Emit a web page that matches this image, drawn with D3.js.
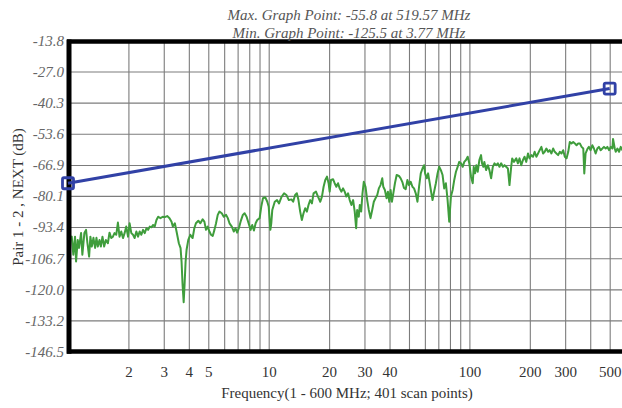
<!DOCTYPE html>
<html><head><meta charset="utf-8">
<script src="https://cdn.jsdelivr.net/npm/d3@7"></script>
<style>body{margin:0;background:#fff;} svg{display:block;}</style>
</head><body>
<svg id="chart" width="622" height="408"></svg>
<script>
const titleLines = ["Max. Graph Point: -55.8 at 519.57 MHz", "Min. Graph Point: -125.5 at 3.77 MHz"];
const yTitle = "Pair 1 - 2 , NEXT (dB)";
const xTitle = "Frequency(1 - 600 MHz; 401 scan points)";
const yTicks = [-13.8, -27.0, -40.3, -53.6, -66.9, -80.1, -93.4, -106.7, -120.0, -133.2, -146.5];
const xLabelTicks = [2, 3, 4, 5, 10, 20, 30, 40, 100, 200, 300, 500];
const xGridTicks = [2, 3, 4, 5, 6, 7, 8, 9, 10, 20, 30, 40, 50, 60, 70, 80, 90, 100, 200, 300, 400, 500, 600];
const limitFreq = [1, 500];
const limitDb = [-74.7, -34.3];
const nextTrace = [
[1.01,-109.5],[1.023,-98.9],[1.044,-97.5],[1.063,-105.2],[1.084,-97.5],[1.097,-108.1],[1.118,-98.9],[1.135,-102.3],[1.162,-95.9],[1.179,-105.2],
[1.207,-95.9],[1.23,-94.6],[1.249,-100.1],[1.274,-106.0],[1.293,-97.5],[1.314,-101.7],[1.339,-98.0],[1.365,-102.3],[1.386,-98.0],[1.408,-101.7],
[1.435,-98.9],[1.458,-101.7],[1.485,-97.5],[1.514,-101.7],[1.544,-98.9],[1.58,-100.3],[1.61,-95.8],[1.642,-98.1],[1.674,-97.5],[1.705,-96.0],
[1.739,-96.7],[1.773,-91.5],[1.806,-97.5],[1.842,-95.3],[1.879,-98.1],[1.914,-96.0],[1.951,-93.2],[1.991,-97.5],[2.028,-91.8],[2.068,-96.0],
[2.109,-96.7],[2.148,-98.1],[2.191,-95.3],[2.234,-97.5],[2.275,-95.3],[2.32,-96.7],[2.366,-94.6],[2.411,-96.0],[2.459,-93.9],[2.507,-94.6],
[2.554,-93.2],[2.604,-93.5],[2.656,-92.5],[2.705,-93.2],[2.759,-90.4],[2.814,-89.0],[2.889,-89.6],[2.967,-89.0],[3.036,-89.2],[3.121,-88.7],
[3.205,-89.6],[3.28,-91.1],[3.329,-93.2],[3.407,-91.8],[3.474,-95.3],[3.567,-100.3],[3.638,-102.4],[3.68,-108.2],[3.723,-118.0],[3.77,-125.5],
[3.809,-118.0],[3.854,-108.2],[3.898,-103.1],[3.975,-98.9],[4.068,-96.7],[4.177,-98.1],[4.26,-93.9],[4.339,-91.8],[4.461,-90.7],[4.565,-91.8],
[4.688,-90.1],[4.781,-91.1],[4.87,-94.6],[4.966,-93.2],[5.064,-95.3],[5.159,-96.7],[5.261,-97.2],[5.365,-94.6],[5.465,-91.8],[5.573,-88.2],
[5.684,-86.8],[5.836,-87.5],[5.973,-89.0],[6.134,-88.2],[6.255,-89.6],[6.379,-91.8],[6.55,-93.2],[6.703,-95.3],[6.835,-93.9],[6.963,-95.8],
[7.1,-93.9],[7.241,-91.1],[7.435,-88.2],[7.582,-87.5],[7.759,-89.0],[7.94,-91.8],[8.126,-94.6],[8.277,-92.5],[8.441,-94.9],[8.608,-91.8],
[8.768,-90.4],[9.014,-89.6],[9.182,-84.7],[9.365,-81.1],[9.616,-80.7],[9.84,-82.6],[10.0,-84.7],[10.19,-94.6],[10.3,-91.8],[10.42,-86.1],
[10.72,-82.6],[11.0,-81.9],[11.26,-83.3],[11.56,-80.7],[11.93,-79.0],[12.25,-79.7],[12.6,-81.9],[12.98,-81.6],[13.24,-82.6],[13.54,-79.7],
[13.81,-79.0],[14.07,-81.9],[14.35,-86.8],[14.63,-90.4],[14.91,-87.5],[15.2,-85.4],[15.5,-86.8],[15.79,-84.0],[16.1,-81.9],[16.42,-83.3],
[16.73,-79.0],[17.2,-78.3],[17.6,-80.4],[18.07,-82.6],[18.42,-80.4],[18.77,-76.2],[19.14,-73.3],[19.52,-71.9],[19.88,-74.7],[20.12,-78.3],
[20.44,-73.3],[20.92,-73.0],[21.31,-74.7],[21.73,-76.2],[22.16,-74.7],[22.57,-76.9],[23.01,-78.3],[23.47,-76.9],[23.91,-78.3],[24.38,-80.4],
[24.86,-79.0],[25.33,-81.9],[25.83,-84.0],[26.34,-81.9],[26.83,-86.8],[27.27,-93.9],[27.59,-86.1],[28.1,-89.0],[28.43,-84.0],[28.89,-86.8],
[29.33,-79.0],[29.77,-74.1],[30.36,-76.2],[30.96,-81.9],[31.53,-86.1],[32.16,-89.6],[32.79,-86.1],[33.4,-82.6],[34.06,-81.1],[34.74,-79.7],
[35.38,-76.9],[36.08,-75.5],[36.8,-72.6],[37.23,-76.2],[37.92,-77.6],[38.67,-81.1],[39.26,-78.3],[39.9,-82.6],[40.5,-77.6],[41.11,-82.6],
[41.78,-79.0],[42.56,-74.7],[43.41,-71.2],[44.57,-71.6],[45.45,-72.6],[46.35,-74.2],[47.21,-76.7],[48.15,-77.2],[49.1,-73.3],[50.02,-75.5],
[51.01,-74.1],[52.02,-76.2],[52.99,-76.9],[54.04,-79.0],[55.11,-82.6],[56.13,-76.2],[57.24,-70.5],[58.38,-68.4],[59.46,-67.0],[60.15,-70.5],
[61.34,-72.6],[62.27,-70.5],[63.29,-74.1],[64.24,-77.6],[65.51,-81.9],[66.73,-78.3],[68.06,-74.7],[69.4,-70.5],[70.69,-67.7],[72.09,-69.1],
[73.51,-71.2],[74.88,-76.9],[76.36,-74.7],[77.87,-81.9],[79.33,-91.1],[80.9,-80.4],[82.5,-77.6],[84.04,-73.3],[85.7,-69.8],[87.39,-67.7],
[89.02,-65.6],[90.78,-66.2],[92.57,-67.7],[94.3,-65.6],[96.16,-64.8],[98.06,-63.4],[99.89,-66.2],[101.9,-71.9],[103.9,-74.7],[105.1,-67.7],
[106.7,-70.5],[108.3,-67.0],[110.0,-69.8],[112.1,-64.8],[114.3,-62.7],[115.6,-66.2],[117.4,-67.7],[118.7,-65.6],[121.1,-69.1],[123.5,-67.0],
[125.8,-69.1],[128.3,-72.6],[130.8,-67.7],[133.3,-66.2],[135.9,-67.0],[138.6,-66.2],[141.2,-67.7],[144.0,-66.2],[146.9,-67.7],[149.6,-67.0],
[152.5,-67.7],[155.5,-68.4],[158.4,-75.5],[161.5,-67.7],[163.4,-64.1],[166.7,-65.6],[171.2,-64.1],[174.5,-66.2],[177.8,-64.1],[181.3,-67.0],
[184.9,-64.8],[188.3,-63.4],[192.0,-65.6],[195.9,-62.0],[199.5,-64.1],[203.5,-62.7],[207.5,-63.4],[211.4,-61.3],[215.6,-63.4],[219.8,-62.0],
[223.9,-60.6],[228.4,-59.2],[232.9,-62.0],[237.2,-61.3],[241.9,-59.9],[246.7,-61.3],[251.3,-60.6],[256.3,-62.0],[261.3,-59.9],[266.2,-61.3],
[271.5,-62.0],[276.8,-62.7],[282.0,-61.3],[287.6,-62.0],[293.3,-60.6],[298.8,-63.4],[304.7,-64.1],[310.8,-61.3],[316.4,-57.1],[322.7,-57.7],
[329.1,-57.1],[335.2,-57.7],[341.9,-58.5],[348.6,-57.7],[355.1,-57.7],[362.2,-59.2],[369.3,-59.9],[373.6,-70.5],[379.2,-62.0],[388.1,-59.9],
[393.9,-59.2],[401.7,-60.6],[409.6,-58.5],[417.3,-59.9],[425.6,-62.0],[434.0,-59.9],[442.1,-59.2],[450.8,-60.6],[459.7,-59.9],[468.3,-59.2],
[477.5,-59.9],[487.1,-59.2],[496.1,-60.6],[505.9,-59.2],[515.9,-59.9],[519.57,-55.8],[530.0,-59.9],[535.9,-61.3],[546.5,-59.9],[556.7,-61.3],
[567.7,-59.2],[579.0,-60.6],[590.0,-59.9],[600.0,-60.6]
];

const svg = d3.select("#chart");
const plot = {left: 68, top: 40.5, bottom: 351.5, decade: 200.7};
const x = d3.scaleLog().domain([1, 600]).range([plot.left, plot.left + plot.decade * Math.log10(600)]);
const y = d3.scaleLinear().domain([-146.5, -13.8]).range([plot.bottom, plot.top]);
const serif = "'Liberation Serif','Times New Roman',serif";

// grid
const gridColor = "#7c7c7c";
const gx = svg.append("g").attr("transform", `translate(0,${plot.bottom})`)
  .call(d3.axisBottom(x).tickValues(xGridTicks).tickSize(-(plot.bottom - plot.top)).tickFormat(""));
gx.select(".domain").remove();
gx.selectAll("line").attr("stroke", gridColor).attr("stroke-width", 1.1);
const gy = svg.append("g").attr("transform", `translate(${plot.left},0)`)
  .call(d3.axisLeft(y).tickValues(yTicks).tickSize(-(x.range()[1] - plot.left)).tickFormat(""));
gy.select(".domain").remove();
gy.selectAll("line").attr("stroke", gridColor).attr("stroke-width", 1.1);

// measured trace
const line = d3.line().x(d => x(d[0])).y(d => y(d[1]));
svg.append("path").datum(nextTrace)
  .attr("fill", "none").attr("stroke", "#3f9d3c").attr("stroke-width", 2)
  .attr("stroke-linejoin", "round").attr("d", line);

// borders
const bw = 4.5;
svg.append("line").attr("x1", plot.left - 1).attr("x2", 640).attr("y1", plot.top + 1).attr("y2", plot.top + 1)
  .attr("stroke", "#000").attr("stroke-width", bw);
svg.append("line").attr("x1", plot.left - 1).attr("x2", 640).attr("y1", plot.bottom).attr("y2", plot.bottom)
  .attr("stroke", "#000").attr("stroke-width", bw);
svg.append("line").attr("x1", plot.left + 1).attr("x2", plot.left + 1).attr("y1", plot.top - 1).attr("y2", plot.bottom + 2.2)
  .attr("stroke", "#000").attr("stroke-width", 5);

// limit line
const limit = limitFreq.map((f, i) => [f, limitDb[i]]);
svg.append("path").datum(limit)
  .attr("fill", "none").attr("stroke", "#3141a6").attr("stroke-width", 3).attr("d", line);
svg.selectAll("rect.mk").data(limit).join("rect").attr("class", "mk")
  .attr("x", d => x(d[0]) - 5.5).attr("y", d => y(d[1]) - 5.5).attr("width", 11).attr("height", 11)
  .attr("rx", 1.5).attr("fill", "none").attr("stroke", "#3141a6").attr("stroke-width", 2.8);

// tick labels
const ay = svg.append("g").attr("transform", `translate(${plot.left - 1},0)`)
  .call(d3.axisLeft(y).tickValues(yTicks).tickSize(0).tickPadding(3).tickFormat(d => d.toFixed(1)));
ay.select(".domain").remove();
ay.selectAll("text").attr("font-family", serif).attr("font-style", "italic").attr("font-size", 15).attr("fill", "#666");

const ax = svg.append("g").attr("transform", `translate(0,${plot.bottom})`)
  .call(d3.axisBottom(x).tickValues(xLabelTicks).tickSize(0).tickPadding(15).tickFormat(d3.format("d")));
ax.select(".domain").remove();
ax.selectAll("text").attr("font-family", serif).attr("font-size", 15).attr("fill", "#333");

// titles
svg.selectAll("text.title").data(titleLines).join("text").attr("class", "title")
  .attr("x", 349).attr("y", (d, i) => 20 + i * 18).attr("text-anchor", "middle")
  .attr("font-family", serif).attr("font-style", "italic").attr("font-size", 15).attr("fill", "#555")
  .text(d => d);
svg.append("text").attr("transform", "translate(23,197) rotate(-90)").attr("text-anchor", "middle")
  .attr("font-family", serif).attr("font-size", 15).attr("fill", "#333").text(yTitle);
svg.append("text").attr("x", 347).attr("y", 398).attr("text-anchor", "middle")
  .attr("font-family", serif).attr("font-size", 15).attr("fill", "#333").text(xTitle);
</script>
</body></html>
